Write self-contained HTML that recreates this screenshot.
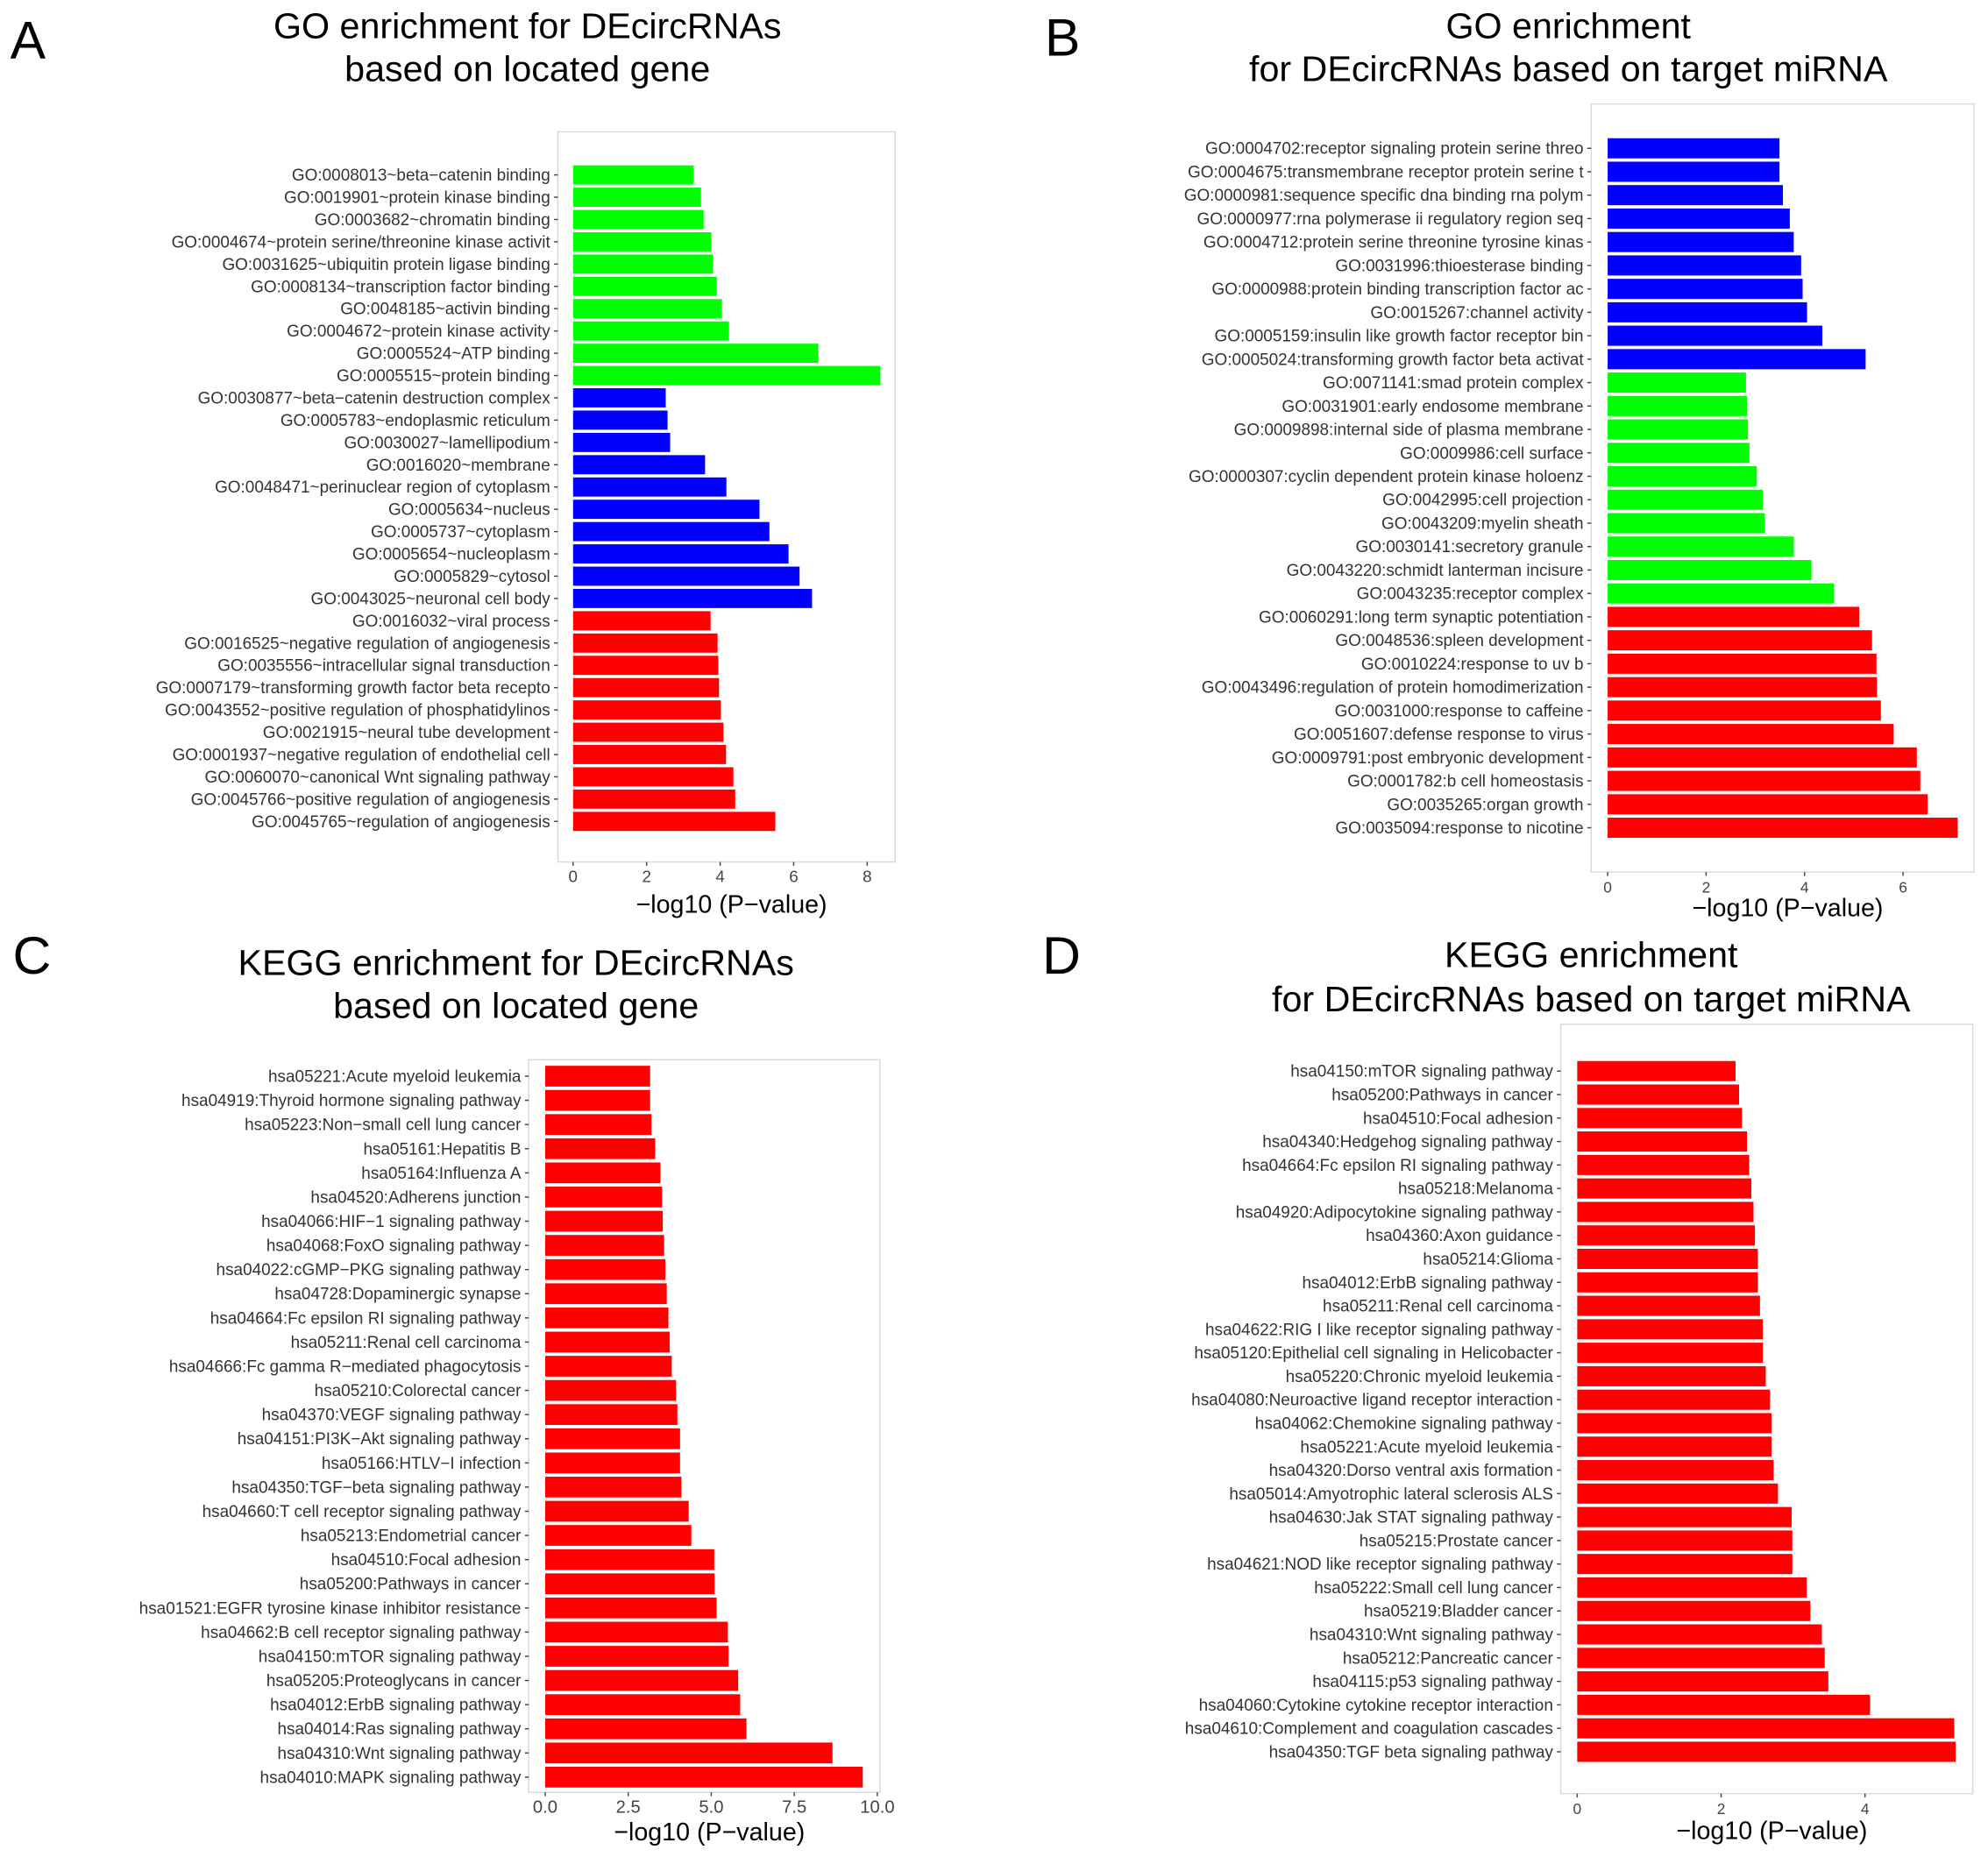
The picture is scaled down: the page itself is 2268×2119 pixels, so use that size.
<!DOCTYPE html>
<html><head><meta charset="utf-8"><style>
html,body{margin:0;padding:0;background:#fff;}
svg{display:block;font-family:"Liberation Sans",Arial,sans-serif;}
</style></head><body>
<svg id="fig" width="2268" height="2119" viewBox="0 0 1568 1465" preserveAspectRatio="none" xmlns="http://www.w3.org/2000/svg">
<rect width="1568" height="1465" fill="#fff"/>
<text x="8" y="46" font-size="42">A</text>
<text x="824" y="44" font-size="42">B</text>
<text x="10" y="768" font-size="42">C</text>
<text x="822" y="768" font-size="42">D</text>
<g font-size="28.5" text-anchor="middle"><text x="416" y="30">GO enrichment for DEcircRNAs</text><text x="416" y="64">based on located gene</text></g>
<g font-size="28.5" text-anchor="middle"><text x="1237" y="30">GO enrichment</text><text x="1237" y="64">for DEcircRNAs based on target miRNA</text></g>
<g font-size="28.5" text-anchor="middle"><text x="407" y="769">KEGG enrichment for DEcircRNAs</text><text x="407" y="803">based on located gene</text></g>
<g font-size="28.5" text-anchor="middle"><text x="1255" y="763">KEGG enrichment</text><text x="1255" y="798">for DEcircRNAs based on target miRNA</text></g>
</svg>
<script>
const catsA = ["GO:0008013~beta−catenin binding","GO:0019901~protein kinase binding","GO:0003682~chromatin binding","GO:0004674~protein serine/threonine kinase activit","GO:0031625~ubiquitin protein ligase binding","GO:0008134~transcription factor binding","GO:0048185~activin binding","GO:0004672~protein kinase activity","GO:0005524~ATP binding","GO:0005515~protein binding","GO:0030877~beta−catenin destruction complex","GO:0005783~endoplasmic reticulum","GO:0030027~lamellipodium","GO:0016020~membrane","GO:0048471~perinuclear region of cytoplasm","GO:0005634~nucleus","GO:0005737~cytoplasm","GO:0005654~nucleoplasm","GO:0005829~cytosol","GO:0043025~neuronal cell body","GO:0016032~viral process","GO:0016525~negative regulation of angiogenesis","GO:0035556~intracellular signal transduction","GO:0007179~transforming growth factor beta recepto","GO:0043552~positive regulation of phosphatidylinos","GO:0021915~neural tube development","GO:0001937~negative regulation of endothelial cell","GO:0060070~canonical Wnt signaling pathway","GO:0045766~positive regulation of angiogenesis","GO:0045765~regulation of angiogenesis"];
const valsA = [3.28,3.48,3.55,3.76,3.81,3.91,4.05,4.24,6.67,8.36,2.52,2.57,2.64,3.59,4.17,5.07,5.34,5.86,6.16,6.5,3.74,3.93,3.95,3.97,4.02,4.09,4.16,4.36,4.41,5.5];
const groupsA = ["g","g","g","g","g","g","g","g","g","g","b","b","b","b","b","b","b","b","b","b","r","r","r","r","r","r","r","r","r","r"];
const ticksA = ["0","2","4","6","8"];

const catsB = ["GO:0004702:receptor signaling protein serine threo","GO:0004675:transmembrane receptor protein serine t","GO:0000981:sequence specific dna binding rna polym","GO:0000977:rna polymerase ii regulatory region seq","GO:0004712:protein serine threonine tyrosine kinas","GO:0031996:thioesterase binding","GO:0000988:protein binding transcription factor ac","GO:0015267:channel activity","GO:0005159:insulin like growth factor receptor bin","GO:0005024:transforming growth factor beta activat","GO:0071141:smad protein complex","GO:0031901:early endosome membrane","GO:0009898:internal side of plasma membrane","GO:0009986:cell surface","GO:0000307:cyclin dependent protein kinase holoenz","GO:0042995:cell projection","GO:0043209:myelin sheath","GO:0030141:secretory granule","GO:0043220:schmidt lanterman incisure","GO:0043235:receptor complex","GO:0060291:long term synaptic potentiation","GO:0048536:spleen development","GO:0010224:response to uv b","GO:0043496:regulation of protein homodimerization ","GO:0031000:response to caffeine","GO:0051607:defense response to virus","GO:0009791:post embryonic development","GO:0001782:b cell homeostasis","GO:0035265:organ growth","GO:0035094:response to nicotine"];
const valsB = [3.49,3.49,3.56,3.7,3.78,3.93,3.96,4.05,4.36,5.24,2.81,2.83,2.85,2.88,3.03,3.15,3.19,3.78,4.14,4.6,5.11,5.37,5.46,5.47,5.55,5.81,6.28,6.35,6.5,7.11];
const groupsB = ["b","b","b","b","b","b","b","b","b","b","g","g","g","g","g","g","g","g","g","g","r","r","r","r","r","r","r","r","r","r"];
const ticksB = ["0","2","4","6"];

const catsC = ["hsa05221:Acute myeloid leukemia","hsa04919:Thyroid hormone signaling pathway","hsa05223:Non−small cell lung cancer","hsa05161:Hepatitis B","hsa05164:Influenza A","hsa04520:Adherens junction","hsa04066:HIF−1 signaling pathway","hsa04068:FoxO signaling pathway","hsa04022:cGMP−PKG signaling pathway","hsa04728:Dopaminergic synapse","hsa04664:Fc epsilon RI signaling pathway","hsa05211:Renal cell carcinoma","hsa04666:Fc gamma R−mediated phagocytosis","hsa05210:Colorectal cancer","hsa04370:VEGF signaling pathway","hsa04151:PI3K−Akt signaling pathway","hsa05166:HTLV−I infection","hsa04350:TGF−beta signaling pathway","hsa04660:T cell receptor signaling pathway","hsa05213:Endometrial cancer","hsa04510:Focal adhesion","hsa05200:Pathways in cancer","hsa01521:EGFR tyrosine kinase inhibitor resistance","hsa04662:B cell receptor signaling pathway","hsa04150:mTOR signaling pathway","hsa05205:Proteoglycans in cancer","hsa04012:ErbB signaling pathway","hsa04014:Ras signaling pathway","hsa04310:Wnt signaling pathway","hsa04010:MAPK signaling pathway"];
const valsC = [3.16,3.16,3.2,3.31,3.47,3.52,3.54,3.58,3.62,3.66,3.71,3.75,3.81,3.94,3.98,4.06,4.06,4.1,4.32,4.4,5.09,5.1,5.16,5.5,5.52,5.81,5.87,6.06,8.65,9.56];
const ticksC = ["0.0","2.5","5.0","7.5","10.0"];
const tickValsC = [0,2.5,5,7.5,10];

const catsD = ["hsa04150:mTOR signaling pathway","hsa05200:Pathways in cancer","hsa04510:Focal adhesion","hsa04340:Hedgehog signaling pathway","hsa04664:Fc epsilon RI signaling pathway","hsa05218:Melanoma","hsa04920:Adipocytokine signaling pathway","hsa04360:Axon guidance","hsa05214:Glioma","hsa04012:ErbB signaling pathway","hsa05211:Renal cell carcinoma","hsa04622:RIG I like receptor signaling pathway","hsa05120:Epithelial cell signaling in Helicobacter","hsa05220:Chronic myeloid leukemia","hsa04080:Neuroactive ligand receptor interaction","hsa04062:Chemokine signaling pathway","hsa05221:Acute myeloid leukemia","hsa04320:Dorso ventral axis formation","hsa05014:Amyotrophic lateral sclerosis ALS","hsa04630:Jak STAT signaling pathway","hsa05215:Prostate cancer","hsa04621:NOD like receptor signaling pathway","hsa05222:Small cell lung cancer","hsa05219:Bladder cancer","hsa04310:Wnt signaling pathway","hsa05212:Pancreatic cancer","hsa04115:p53 signaling pathway","hsa04060:Cytokine cytokine receptor interaction","hsa04610:Complement and coagulation cascades","hsa04350:TGF beta signaling pathway"];
const valsD = [2.2,2.25,2.29,2.36,2.39,2.42,2.45,2.47,2.51,2.51,2.54,2.58,2.58,2.62,2.68,2.7,2.7,2.73,2.79,2.98,2.99,2.99,3.19,3.24,3.4,3.44,3.49,4.07,5.24,5.26];
const ticksD = ["0","2","4"];

const NS = "http://www.w3.org/2000/svg";
const svg = document.getElementById('fig');
const COL = {g:"#00ff00", b:"#0000ff", r:"#ff0000"};
function mk(tag, attrs, parent){
  const e = document.createElementNS(NS, tag);
  for (const k in attrs) e.setAttribute(k, attrs[k]);
  parent.appendChild(e); return e;
}
function panel(id, L, cats, vals, groups, ticks, tickVals){
  const g = mk('g', {}, svg);
  
  
  const box = mk('rect', {x:L.bx0, y:L.by0, width:L.bx1-L.bx0, height:L.by1-L.by0, fill:'#fff', stroke:'#d9d9d9', 'stroke-width':1}, g);
  
  
  const xs = v => L.x0 + (v - 0) * (L.xEnd - L.x0) / L.vEnd;
  const n = cats.length;
  const step = (L.yLast - L.yFirst) / (n - 1);
  const ys = i => L.yFirst + i * step;
  const bh = step * 0.86;
  for (let i = 0; i < n; i++){
    const r = mk('rect', {x:xs(0), y:ys(i)-bh/2, width:xs(vals[i])-xs(0), height:bh, fill:COL[groups ? groups[i] : 'r']}, g);
    
    
    const t = mk('text', {x:L.bx0-6, y:ys(i)+4.5, 'font-size':L.fs, 'text-anchor':'end', fill:'#333'}, g);
    t.textContent = cats[i];
    
    
    mk('line', {x1:L.bx0-3, x2:L.bx0, y1:ys(i), y2:ys(i), stroke:'#444', 'stroke-width':1}, g);
  }
  ticks.forEach((lab, k) => {
    const v = tickVals ? tickVals[k] : parseFloat(lab);
    const x = xs(v);
    mk('line', {x1:x, x2:x, y1:L.by1, y2:L.by1+3, stroke:'#444', 'stroke-width':1}, g);
    const t = mk('text', {x:x, y:L.by1+16, 'font-size':L.tfs, 'text-anchor':'middle', fill:'#444'}, g);
    t.textContent = lab;
    
    
  });
  const at = mk('text', {x:(L.bx0+L.bx1)/2+4, y:L.titleY, 'font-size':19.8, 'text-anchor':'middle', fill:'#000'}, g);
  at.textContent = '−log10 (P−value)';
  
  
}
panel('a', {bx0:440,bx1:706,by0:104,by1:680,x0:452,xEnd:684,vEnd:8,yFirst:138,yLast:648,fs:13.1,tfs:13,titleY:720}, catsA, valsA, groupsA, ticksA);
panel('b', {bx0:1255,bx1:1557,by0:82,by1:688,x0:1268,xEnd:1501,vEnd:6,yFirst:117,yLast:653,fs:13.1,tfs:12,titleY:723}, catsB, valsB, groupsB, ticksB);
panel('c', {bx0:417,bx1:694,by0:836,by1:1414,x0:430,xEnd:692,vEnd:10,yFirst:849,yLast:1402,fs:13.1,tfs:14,titleY:1452}, catsC, valsC, null, ticksC, tickValsC);
panel('d', {bx0:1231,bx1:1556,by0:808,by1:1415,x0:1244,xEnd:1471,vEnd:4,yFirst:845,yLast:1382,fs:13.1,tfs:12,titleY:1451}, catsD, valsD, null, ticksD);
</script>
</body></html>
